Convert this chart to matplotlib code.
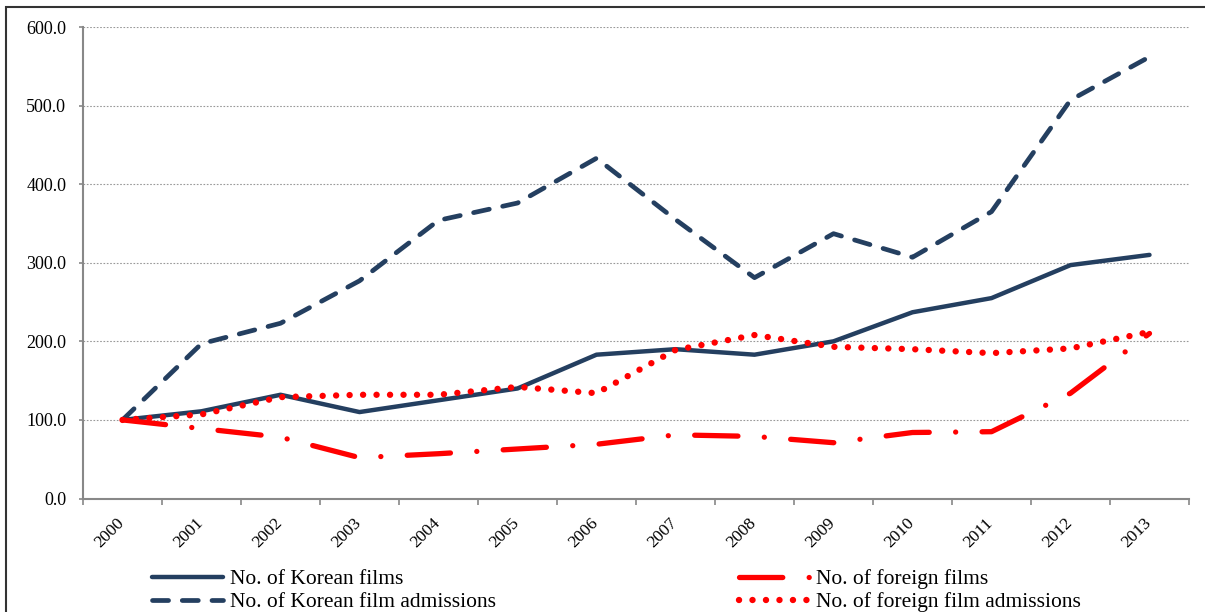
import matplotlib.pyplot as plt
from matplotlib.patches import Rectangle
from matplotlib.transforms import ScaledTranslation
import numpy as np

years = [str(y) for y in range(2000, 2014)]
korean_films = [100, 111, 132, 110, 125, 140, 183, 190, 183, 200, 237, 255, 297, 310]
korean_admissions = [100, 197, 223, 277, 354, 376, 433, 355, 281, 337, 307, 365, 507, 562]
foreign_films = [100, 89, 78, 52, 57, 63, 69, 81, 79, 71, 84, 85, 134, 210]
foreign_admissions = [100, 107, 129, 132, 132, 142, 134, 189, 208, 193, 190, 185, 191, 212]

navy = '#243f60'
red = '#ff0000'

plt.rcParams['font.family'] = ['Liberation Serif', 'DejaVu Serif']

fig = plt.figure(figsize=(12.05, 6.12), dpi=100)
W, H = 1205, 612
ax = fig.add_axes([83 / W, 1 - 498.5 / H, (1189 - 83) / W, (498.5 - 27) / H])

x = np.arange(len(years))
ax.plot(x, korean_films, color=navy, lw=3.2, solid_capstyle='round',
        label='No. of Korean films')
ax.plot(x, korean_admissions, color=navy, lw=3.4, linestyle=(0, (3.4, 2.9)),
        dash_capstyle='round', label='No. of Korean film admissions')
ax.plot(x, foreign_films, color=red, lw=3.8, linestyle=(0, (8.2, 5.0, 0.01, 5.0)),
        dash_capstyle='round', label='No. of foreign films')
ax.plot(x, foreign_admissions, color=red, lw=4.6, linestyle=(0, (0.01, 2.1)),
        dash_capstyle='round', label='No. of foreign film admissions')

ax.set_xlim(-0.5, len(years) - 0.5)
ax.set_ylim(0, 600)
ax.set_yticks(np.arange(0, 601, 100))
ax.set_yticklabels([f'{v:.1f}' for v in np.arange(0, 601, 100)], fontsize=13)
ax.yaxis.grid(True, color='#999999', linestyle=(0, (1.5, 1.5)), lw=0.8)
ax.set_axisbelow(True)

ax.set_xticks(np.arange(-0.5, len(years), 1))
ax.set_xticklabels([])
ax.set_xticks(x, minor=True)
ax.set_xticklabels(years, minor=True, rotation=45, ha='right', fontsize=12.5)
ax.tick_params(axis='x', which='minor', length=0, pad=12)
ax.tick_params(axis='x', which='major', length=4, color='#888888', width=1.2)
ax.tick_params(axis='y', length=3, color='#888888', width=1.2, pad=9)
shift = ScaledTranslation(5 / 100, 0, fig.dpi_scale_trans)
for lab in ax.get_xticklabels(minor=True):
    lab.set_transform(lab.get_transform() + shift)

for side in ['top', 'right']:
    ax.spines[side].set_visible(False)
for side in ['left', 'bottom']:
    ax.spines[side].set_color('#888888')
    ax.spines[side].set_linewidth(1.5)

fig.legend(loc='upper left', bbox_to_anchor=(152 / W, 1 - 569 / H), ncol=2,
           frameon=False, fontsize=15.5, handlelength=3.3, handletextpad=0.3,
           columnspacing=11.3, labelspacing=0.15, borderpad=0, borderaxespad=0)

fig.patches.append(Rectangle((6 / W, -0.2), 1.2, 1.2 - 7 / H, transform=fig.transFigure,
                             fill=False, edgecolor='#333333', lw=1.5))

fig.savefig('out.png', dpi=100)
